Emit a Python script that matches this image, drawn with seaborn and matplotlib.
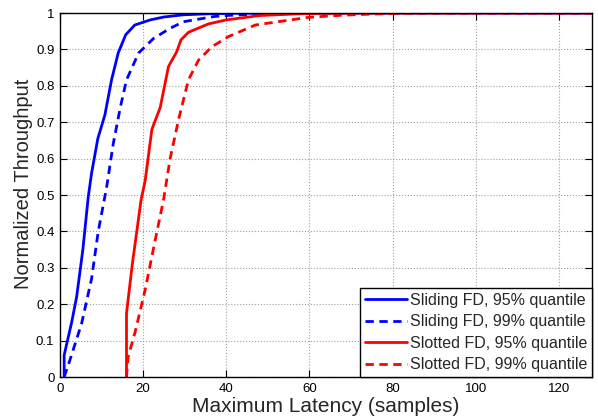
import numpy as np
import pandas as pd
import matplotlib
matplotlib.use("Agg")
import matplotlib.pyplot as plt
import seaborn as sns

# curves (latency in samples, normalized throughput)
sliding95_x = [1, 1, 2.8, 4, 5.5, 6.8, 7.6, 9.1, 10.8, 12.4, 14, 15.8, 18, 21.7, 25, 29.6, 36, 42, 50, 128]
sliding95_y = [0, 0.06, 0.15, 0.22, 0.35, 0.495, 0.56, 0.655, 0.72, 0.816, 0.89, 0.94, 0.967, 0.981, 0.989, 0.995, 0.998, 0.999, 1.0, 1.0]

sliding99_x = [1, 2.4, 5.2, 7.6, 9.2, 11.2, 12.8, 14.5, 16, 18.9, 22.5, 26.5, 29.7, 36.9, 40, 47, 55, 128]
sliding99_y = [0, 0.047, 0.147, 0.27, 0.40, 0.52, 0.64, 0.74, 0.816, 0.89, 0.93, 0.958, 0.976, 0.99, 0.993, 0.997, 1.0, 1.0]

slotted95_x = [16, 16, 17.4, 19.5, 20.5, 22.1, 24.1, 26.1, 28.1, 29.1, 30.9, 35.7, 40, 48, 58, 70, 128]
slotted95_y = [0, 0.175, 0.31, 0.486, 0.54, 0.68, 0.74, 0.853, 0.894, 0.926, 0.947, 0.97, 0.981, 0.993, 0.998, 1.0, 1.0]

slotted99_x = [16, 16.4, 18, 20.5, 22.9, 24.9, 26.5, 28.5, 30.9, 33.3, 36.5, 40.5, 47, 59.7, 68, 75, 85, 128]
slotted99_y = [0, 0.056, 0.12, 0.24, 0.376, 0.486, 0.6, 0.706, 0.816, 0.87, 0.907, 0.935, 0.967, 0.988, 0.994, 0.997, 1.0, 1.0]

labels = ["Sliding FD, 95% quantile", "Sliding FD, 99% quantile",
          "Slotted FD, 95% quantile", "Slotted FD, 99% quantile"]
colors = ["#0000ff", "#0000ff", "#ff0000", "#ff0000"]
styles = ["-", "--", "-", "--"]
xs = [sliding95_x, sliding99_x, slotted95_x, slotted99_x]
ys = [sliding95_y, sliding99_y, slotted95_y, slotted99_y]

sns.set_style("ticks")
plt.rcParams['font.family'] = ['Liberation Sans', 'DejaVu Sans']

fig = plt.figure(figsize=(5.98, 4.17), dpi=100)
ax = fig.add_axes([60 / 598, 40 / 417, 532 / 598, 364 / 417])

handles = []
for x, y, lab, c, ls in zip(xs, ys, labels, colors, styles):
    df = pd.DataFrame({"latency": x, "throughput": y})
    sns.lineplot(data=df, x="latency", y="throughput", ax=ax, estimator=None,
                 sort=False, color=c, linewidth=2.0)
    line = ax.lines[-1]
    line.set_linestyle(ls)
    if ls == "--":
        line.set_dashes([3, 2])
    line.set_label(lab)
    handles.append(line)

ax.set_xlim(0, 128)
ax.set_ylim(0, 1)
ax.set_xticks(np.arange(0, 121, 20))
ax.set_yticks(np.arange(0, 1.01, 0.1))
ax.set_yticklabels(["0", "0.1", "0.2", "0.3", "0.4", "0.5", "0.6", "0.7", "0.8", "0.9", "1"])
ax.grid(True, linestyle=":", color="#a0a0a0", linewidth=0.8)
ax.tick_params(direction="in", top=True, right=True, length=5, labelsize=9.5,
               colors="black", width=0.8, pad=4)
for sp in ax.spines.values():
    sp.set_color("black")
    sp.set_linewidth(1.0)

ax.set_xlabel("Maximum Latency (samples)", fontsize=15, labelpad=2)
ax.set_ylabel("Normalized Throughput", fontsize=14.5)
ax.yaxis.set_label_coords(-0.05, 0.53)

leg = ax.legend(handles=handles, loc="lower right", fontsize=11.5, frameon=True,
                fancybox=False, borderaxespad=0, handlelength=2.6,
                handletextpad=0.2, labelspacing=0.4, borderpad=0.3)
leg.get_frame().set_edgecolor("black")
leg.get_frame().set_linewidth(1.0)
leg.get_frame().set_alpha(1)

fig.savefig("out.png", dpi=100)
